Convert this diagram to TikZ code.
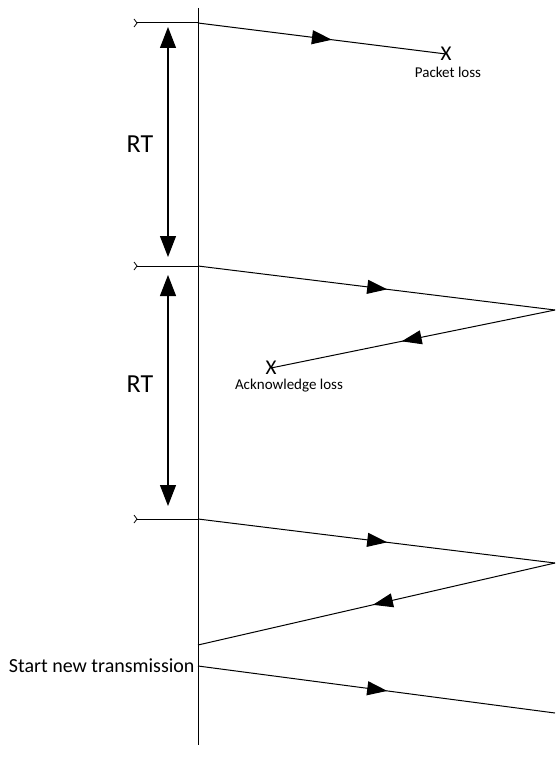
\documentclass[tikz,border=0pt]{standalone}
\usepackage{fontspec}
\setmainfont{Carlito}
\usetikzlibrary{arrows.meta,decorations.markings}

\begin{document}
\begin{tikzpicture}[x=1pt,y=-1pt,line width=1pt,
  midarrow/.style={postaction={decorate},
    decoration={markings,mark=at position #1 with {\arrow{Triangle[length=20pt,width=14pt]}}}},
  rtspan/.style={{Triangle[length=21pt,width=16pt]}-{Triangle[length=21pt,width=16pt]},line width=1.1pt},
  biglabel/.style={font=\fontsize{20}{24}\selectfont,inner sep=0pt},
  rtlabel/.style={font=\fontsize{26}{30}\selectfont,inner sep=0pt},
  losslabel/.style={font=\fontsize{15}{18}\selectfont,inner sep=0pt},
  lossmark/.style={font=\fontsize{21}{24}\selectfont,inner sep=0pt},
  tailmark/.style={line width=0.8pt}]
\useasboundingbox (0,0) rectangle (555,773);

% sender time line
\coordinate (top) at (198,8);
\coordinate (bottom) at (198,745);
\draw (top) -- (bottom);

% send instants on the sender line
\coordinate (s1) at (198,23);
\coordinate (s2) at (198,266);
\coordinate (s3) at (198,519);
\coordinate (s4) at (198,666);
\coordinate (r3) at (198,645);

% timer start ticks
\coordinate (t1) at (137,23);
\coordinate (t2) at (137,266);
\coordinate (t3) at (137,519);
\foreach \t/\s in {t1/s1,t2/s2,t3/s3}{
  \draw (\t) -- (\s);
  \draw[tailmark] ([xshift=-3pt,yshift=4pt]\t) -- (\t) -- ([xshift=-3pt,yshift=-4pt]\t);
}

% receiver side turning points
\coordinate (p2) at (555,310);
\coordinate (p3) at (555,563);
\coordinate (p4) at (555,713);

% lost packet
\node[lossmark] (x1) at (446,54) {X};
\node[losslabel] (pl) at (448,72) {Packet loss};
\draw[midarrow=0.54] (s1) -- (x1.center);

% lost acknowledgement
\node[lossmark] (x2) at (271,368) {X};
\node[losslabel] (al) at (289,386) {Acknowledge loss};
\draw[midarrow=0.53] (s2) -- (p2);
\draw[midarrow=0.54] (p2) -- (x2.center);

% successful exchange
\draw[midarrow=0.53] (s3) -- (p3);
\draw[midarrow=0.51] (p3) -- (r3);

% new transmission
\node[biglabel,anchor=east] (snt) at (195,666) {Start new transmission};
\draw[midarrow=0.53] (s4) -- (p4);

% retransmission timers
\coordinate (rt1a) at (168,27);
\coordinate (rt1b) at (168,257);
\coordinate (rt2a) at (168,275);
\coordinate (rt2b) at (168,506);
\draw[rtspan] (rt1a) -- (rt1b);
\draw[rtspan] (rt2a) -- (rt2b);
\node[rtlabel] (rt1) at (140,144) {RT};
\node[rtlabel] (rt2) at (140,384) {RT};
\end{tikzpicture}
\end{document}
